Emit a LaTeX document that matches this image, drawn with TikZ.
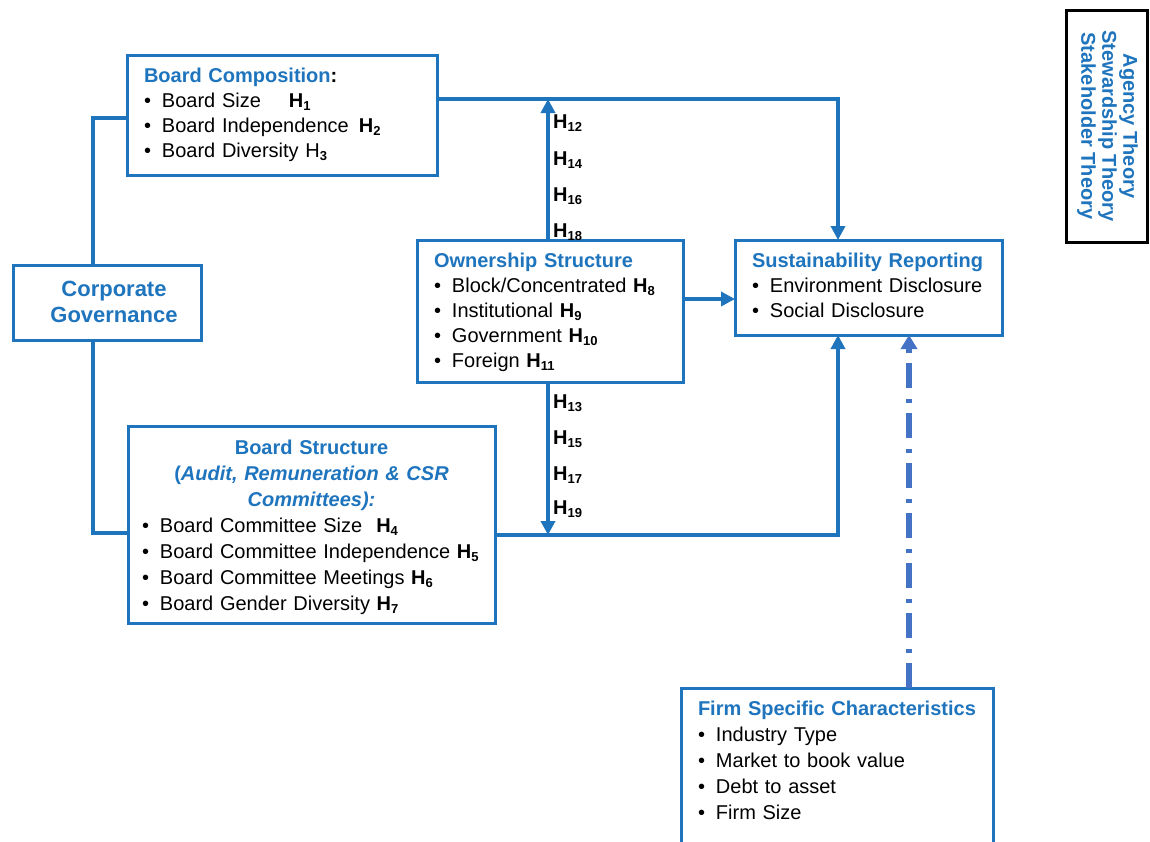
\documentclass[tikz,border=0pt]{standalone}
\usepackage{fontspec}
\setmainfont{Liberation Sans}
\usetikzlibrary{arrows.meta}
\definecolor{cblue}{HTML}{1E74BD}
\definecolor{dblue}{HTML}{4472C4}
\newcommand\hy[1]{\textbf{H}\raisebox{-3pt}{\fontsize{13}{12}\selectfont\textbf{#1}}}
\newcommand\hr[1]{H\raisebox{-3pt}{\fontsize{13}{12}\selectfont\textbf{#1}}}
\newcommand\bu{\makebox[18pt][l]{\textbullet}}
\newcommand\ttl[1]{\textcolor{cblue}{\textbf{#1}}}
\newcommand\ctr[1]{\makebox[\linewidth][c]{#1}}
\tikzset{
  box/.style={draw=cblue, line width=3pt, rectangle, anchor=north west, outer sep=0pt,
    inner xsep=17pt, inner ysep=0pt, align=left, font=\fontsize{20}{25}\selectfont},
  arr/.style={draw=cblue, line width=3.5pt, -{Triangle[width=14pt,length=14pt]}},
  lnk/.style={draw=cblue, line width=3.5pt},
  dd/.style={draw=dblue, line width=5.5pt, dash pattern=on 25pt off 10pt on 4pt off 11pt,
    -{Triangle[width=16pt,length=14pt]}},
  hl/.style={anchor=base west, inner sep=0pt, font=\fontsize{20}{24}\selectfont}
}
\begin{document}
\begin{tikzpicture}[x=1pt,y=-1pt]
\clip (0,0) rectangle (1150,841);
\fill[white] (0,0) rectangle (1150,841);

% boxes
\node[box, text width=276pt, text height=27pt, text depth=93pt] (bc) at (127,55)
 {\ttl{Board Composition}\textbf{:}\\
  \bu Board Size\hspace{28pt}\hy{1}\\
  \bu Board Independence\hspace{10pt}\hy{2}\\
  \bu Board Diversity \hr{3}};

\node[box, align=center, inner xsep=4pt, text width=180pt, text height=31pt, text depth=44pt,
  font=\fontsize{22}{26}\selectfont\bfseries\color{cblue}] (cg) at (13,265)
 {\hspace*{14pt}Corporate\\\hspace*{14pt}Governance};

\node[box, text width=232pt, text height=27pt, text depth=115pt] (own) at (417,240)
 {\ttl{Ownership Structure}\\
  \bu Block/Concentrated \hy{8}\\
  \bu Institutional \hy{9}\\
  \bu Government \hy{10}\\
  \bu Foreign \hy{11}};

\node[box, text width=233pt, text height=27pt, text depth=68pt] (sr) at (735,240)
 {\ttl{Sustainability Reporting}\\
  \bu Environment Disclosure\\
  \bu Social Disclosure};

\node[box, inner xsep=14pt, text width=339pt, text height=28pt, text depth=169pt,
  font=\fontsize{20}{26}\selectfont] (bs) at (128,426)
 {\ctr{\ttl{Board Structure}}\\
  \ctr{\ttl{(\textit{Audit, Remuneration \& CSR}}}\\
  \ctr{\ttl{\textit{Committees):}}}\\
  \bu Board Committee Size\hspace{14pt}\hy{4}\\
  \bu Board Committee Independence \hy{5}\\
  \bu Board Committee Meetings \hy{6}\\
  \bu Board Gender Diversity \hy{7}};

\node[box, text width=278pt, text height=27pt, text depth=150pt,
  font=\fontsize{20}{26}\selectfont] (fs) at (681,688)
 {\ttl{Firm Specific Characteristics}\\
  \bu Industry Type\\
  \bu Market to book value\\
  \bu Debt to asset\\
  \bu Firm Size};

\node[draw=black, line width=3pt, rotate=-90, align=center, inner sep=0pt,
  minimum width=232pt, minimum height=81pt,
  font=\fontsize{20}{21}\selectfont\bfseries\color{cblue}] (th) at (1106.5,126)
 {Agency Theory\\Stewardship Theory\\Stakeholder Theory\\[-15pt]\mbox{}};

% hypothesis labels
\node[hl] (h12) at (553,128) {\hy{12}};
\node[hl] (h14) at (553,165) {\hy{14}};
\node[hl] (h16) at (553,201) {\hy{16}};
\node[hl] (h18) at (553,237) {\hy{18}};
\node[hl] (h13) at (553,408) {\hy{13}};
\node[hl] (h15) at (553,444) {\hy{15}};
\node[hl] (h17) at (553,480) {\hy{17}};
\node[hl] (h19) at (553,514) {\hy{19}};

% junction coordinates
\coordinate (j1) at (838,99);
\coordinate (j2) at (838,535);
\coordinate (u) at (548,0);
\coordinate (m) at (700,299);
\coordinate (k1) at (93,118);
\coordinate (k2) at (93,533);
\coordinate (d) at (909,0);

% connectors
\draw[lnk] (cg.north -| k1) -- (k1) -- (bc.west |- k1);
\draw[lnk] (cg.south -| k1) -- (k2) -- (bs.west |- k2);
\draw[arr] (bc.east |- j1) -- (j1) -- (j1 |- sr.north);
\draw[arr] (own.north -| u) -- (u |- j1);
\draw[arr] (own.south -| u) -- (u |- j2);
\draw[arr] (own.east |- m) -- (sr.west |- m);
\draw[arr] (bs.east |- j2) -- (j2) -- (j2 |- sr.south);
\draw[dd] (fs.north -| d) -- (sr.south -| d);
\end{tikzpicture}
\end{document}
